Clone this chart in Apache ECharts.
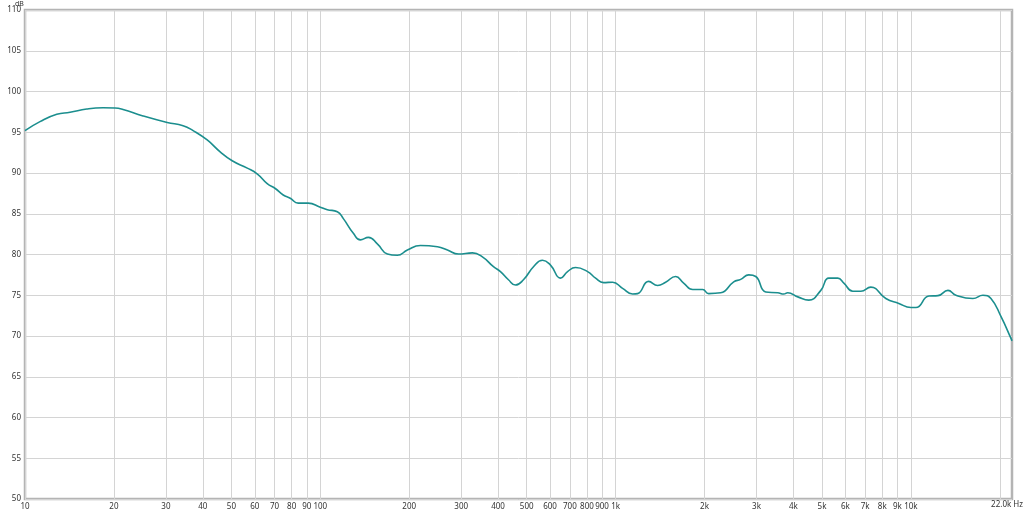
<!DOCTYPE html>
<html><head><meta charset="utf-8">
<script src="https://cdn.jsdelivr.net/npm/echarts@6/dist/echarts.min.js"></script>
<style>html,body{margin:0;padding:0;background:#fff}#c{width:1024px;height:512px}</style>
</head><body><div id="c"></div>
<script>
var freqs = [10,11.24,12.81,14.21,16.18,18.38,20.18,21.48,25.1,30.3,34.3,37.1,41.4,45.8,50.3,56.6,61.1,66.1,70.4,74.9,79.1,84.2,91.0,100,105.6,114.2,119.7,129.4,136.7,145.5,156,168.7,182.4,197.2,218.3,249.4,269.5,293.7,327.5,354,385.9,407.5,433.7,458,487.5,527.2,565.6,602,651,687.6,731.6,804,855.6,910.6,977,1056,1142,1187,1294,1388,1477,1597,1700,1824,1972,2066,2270,2512,2653,2825,2983,3225,3541,3711,3828,4140,4510,4955,5272,5656,5929,6356,6769,7313,8225,9103,10000,10400,11510,12350,13350,14210,16220,17540,18670,20180,21830,22000];
var levels = [95.2,96.3,97.2,97.45,97.85,98.0,97.98,97.8,97.0,96.2,95.8,95.2,94.05,92.6,91.5,90.6,89.9,88.7,88.1,87.3,86.9,86.3,86.3,85.8,85.5,85.25,84.4,82.6,81.8,82.1,81.3,80.06,79.9,80.55,81.1,80.95,80.55,80.06,80.2,79.7,78.5,77.9,76.9,76.25,76.9,78.5,79.3,78.7,77.1,77.9,78.4,77.9,77.1,76.55,76.6,75.85,75.15,75.2,76.7,76.2,76.6,77.3,76.5,75.7,75.7,75.2,75.3,76.65,76.95,77.5,77.3,75.4,75.3,75.15,75.3,74.8,74.4,75.6,77.1,77.1,76.5,75.5,75.5,76.0,74.6,74.0,73.5,73.5,74.9,74.95,75.6,75.0,74.6,75.0,74.6,72.4,69.7,69.4];
var xTicks = [10,20,30,40,50,60,70,80,90,100,200,300,400,500,600,700,800,900,1000,2000,3000,4000,5000,6000,7000,8000,9000,10000,20000];
var xTickLabels = ['10','20','30','40','50','60','70','80','90','100','200','300','400','500','600','700','800','900','1k','2k','3k','4k','5k','6k','7k','8k','9k','10k',''];
var yTicks = [50,55,60,65,70,75,80,85,90,95,100,105,110];

var labelMap = {};
xTicks.forEach(function(v,i){ labelMap[v] = xTickLabels[i]; });
var FONT = '"Noto Sans", "Open Sans", sans-serif';
var chart = echarts.init(document.getElementById('c'), null, {renderer:'canvas'});
chart.setOption({
  animation:false,
  grid:{left:25,right:12,top:10,bottom:13,show:true,borderColor:'#b4b4b4',borderWidth:2.5,backgroundColor:'transparent'},
  xAxis:{
    type:'log', logBase:10, min:10, max:22000,
    axisLine:{show:false},
    axisTick:{show:false, customValues:xTicks},
    axisLabel:{customValues:xTicks, formatter:function(v){ var k = Math.round(v); return labelMap[k] !== undefined ? labelMap[k] : ''; }, fontSize:8, color:'#333', margin:4, fontFamily:FONT},
    splitLine:{show:true, lineStyle:{color:'#d4d4d4', width:1}}
  },
  yAxis:{
    type:'value', min:50, max:110, interval:5,
    axisLine:{show:false}, axisTick:{show:false},
    axisLabel:{fontSize:8, color:'#333', margin:4, fontFamily:FONT},
    splitLine:{show:true, lineStyle:{color:'#d4d4d4', width:1}}
  },
  graphic:[
    {type:'text', left:15, top:0, z:100, style:{text:'dB', fontSize:7, fill:'#333', fontFamily:FONT}},
    {type:'text', right:1, top:501, style:{text:'22.0k Hz', fontSize:8, fill:'#333', fontFamily:FONT}}
  ],
  series:[{
    type:'line', data:freqs.map(function(f,i){return [f, levels[i]];}),
    smooth:0.5, showSymbol:false, symbol:'none',
    lineStyle:{color:'#1b8e8e', width:1.6}
  }]
});
</script></body></html>
